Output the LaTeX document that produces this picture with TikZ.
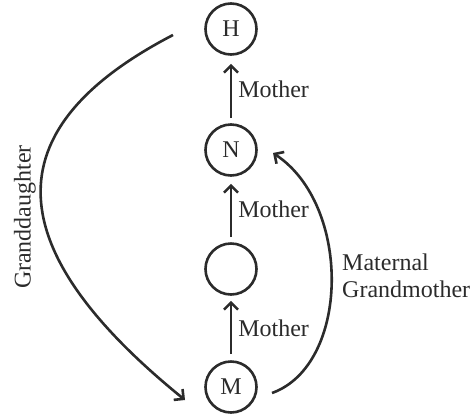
\documentclass[tikz,border=0pt]{standalone}
\usepackage{fontspec}
\setmainfont{Liberation Serif}
\usetikzlibrary{arrows.meta,calc}
\definecolor{ink}{HTML}{2B2B2B}
\begin{document}
\begin{tikzpicture}[x=1pt,y=-1pt,
  person/.style={circle,draw=ink,line width=2.6pt,minimum size=51pt,inner sep=0pt,text=ink,font=\fontsize{24}{28}\selectfont},
  rel/.style={draw=ink,line width=2.6pt,-{Straight Barb[length=7pt,width=14pt,line width=2.6pt]}},
  lbl/.style={text=ink,font=\fontsize{24}{27}\selectfont,inner sep=0pt}]
\useasboundingbox (0,0) rectangle (476,413);
\node[person] (h) at (231,29) {H};
\node[person] (n) at (231,150) {N};
\node[person] (e) at (231,269) {};
\node[person] (m) at (231,387) {M};
\draw[rel,shorten <=5pt,shorten >=8pt] (n) -- (h) node[midway,right=6pt,lbl] (l1) {Mother};
\draw[rel,shorten <=5pt,shorten >=7pt] (e) -- (n) node[midway,right=6pt,lbl] (l2) {Mother};
\draw[rel,shorten <=6pt,shorten >=5pt] (m) -- (e) node[midway,right=6pt,lbl] (l3) {Mother};
\coordinate (gs) at ($(h.center)+(-58,6)$);
\coordinate (ge) at ($(m.center)+(-46,13)$);
\draw[rel] (gs) .. controls (-10,130) and (0,250) .. (ge);
\node[lbl,rotate=90] (gd) at (25,217) {Granddaughter};
\coordinate (ms) at ($(m.center)+(41,6)$);
\coordinate (me) at ($(n.center)+(42,3)$);
\draw[rel] (ms) .. controls (350,365) and (352,205) .. (me);
\node[lbl,anchor=west,align=left] (mg) at (342,276) {Maternal\\Grandmother};
\end{tikzpicture}
\end{document}
